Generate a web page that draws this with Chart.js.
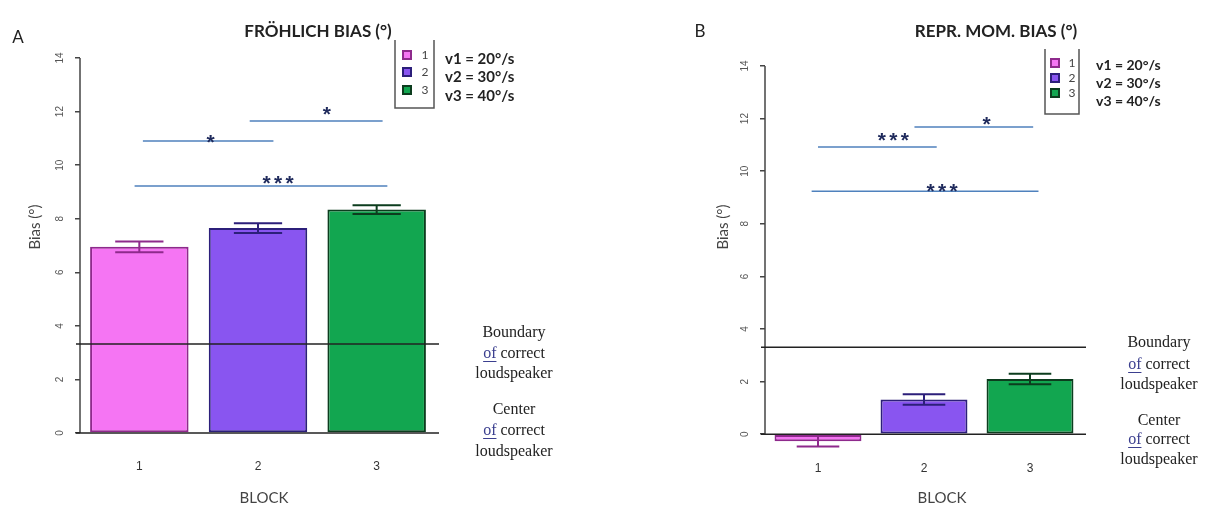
<!DOCTYPE html>
<html>
<head>
<meta charset="utf-8">
<script src="https://cdn.jsdelivr.net/npm/chart.js@4.4.1/dist/chart.umd.min.js"></script>
<style>
  body { margin: 0; background: #fff; }
  #wrap { position: relative; width: 1205px; height: 507px; overflow: hidden; }
  .panel { position: absolute; top: 0; }
</style>
</head>
<body>
<div id="wrap">
  <div class="panel" style="left:0"><canvas id="chartA" width="600" height="507"></canvas></div>
  <div class="panel" style="left:600px"><canvas id="chartB" width="605" height="507"></canvas></div>
</div>
<script>
// data
const blocks = ["1", "2", "3"];
const speedLabels = ["v1 = 20°/s", "v2 = 30°/s", "v3 = 40°/s"];
const yTickValues = [0, 2, 4, 6, 8, 10, 12, 14];

const frohlichMeans = [6.95, 7.65, 8.34];
const frohlichErr = [0.2, 0.18, 0.16];
const frohlichBoundary = 3.32;
// significance brackets: from/to in block units, y in degrees
const frohlichSig = [
  { from: 0.03, to: 1.13, y: 10.9, text: "*", tx: 0.6, ty: 11.05 },
  { from: 0.93, to: 2.05, y: 11.65, text: "*", tx: 1.58, ty: 12.06 },
  { from: -0.04, to: 2.09, y: 9.22, text: "***", tx: 1.17, ty: 9.52 },
];

const reprMeans = [-0.27, 1.32, 2.1];
const reprErr = [0.2, 0.2, 0.2];
const reprBoundary = 3.31;
const reprSig = [
  { from: 0.0, to: 1.12, y: 10.92, text: "***", tx: 0.71, ty: 11.37 },
  { from: 0.91, to: 2.03, y: 11.68, text: "*", tx: 1.59, ty: 11.98 },
  { from: -0.06, to: 2.08, y: 9.24, text: "***", tx: 1.17, ty: 9.4 },
];

const barColors = ["#f575f3", "#8955f0", "#12a650"];
const barBorders = ["#8e2a8c", "#2c1f7a", "#0c3d1e"];
const sigLineColor = "#4f81bd";
const starColor = "#1f2a5c";
const sansFont = "Lato, 'Liberation Sans', sans-serif";
const serifFont = "'Liberation Serif', 'DejaVu Serif', serif";

function drawNote(ctx, cx, rows, first) {
  ctx.save();
  ctx.font = "16px " + serifFont;
  ctx.textBaseline = "middle";
  ctx.fillStyle = "#222";
  ctx.textAlign = "center";
  ctx.fillText(first, cx, rows[0]);
  ctx.fillText("loudspeaker", cx, rows[2]);
  // "of correct" with underlined "of"
  const wOf = ctx.measureText("of").width;
  const wRest = ctx.measureText(" correct").width;
  const x0 = cx - (wOf + wRest) / 2;
  ctx.textAlign = "left";
  ctx.fillStyle = "#3b3f8f";
  ctx.fillText("of", x0, rows[1]);
  ctx.strokeStyle = "#3b3f8f";
  ctx.lineWidth = 1;
  ctx.beginPath();
  ctx.moveTo(x0, rows[1] + 7.5);
  ctx.lineTo(x0 + wOf, rows[1] + 7.5);
  ctx.stroke();
  ctx.fillStyle = "#222";
  ctx.fillText(" correct", x0 + wOf, rows[1]);
  ctx.restore();
}

function drawLegend(ctx, lg) {
  ctx.save();
  ctx.strokeStyle = "#555";
  ctx.lineWidth = 1.5;
  ctx.beginPath();
  ctx.moveTo(lg.left, lg.top);
  ctx.lineTo(lg.left, lg.bottom);
  ctx.lineTo(lg.right, lg.bottom);
  ctx.lineTo(lg.right, lg.top);
  ctx.stroke();
  for (let i = 0; i < blocks.length; i++) {
    ctx.fillStyle = barColors[i];
    ctx.strokeStyle = barBorders[i];
    ctx.lineWidth = 2;
    ctx.fillRect(lg.sqX, lg.sqRows[i] - 4, 8, 8);
    ctx.strokeRect(lg.sqX, lg.sqRows[i] - 4, 8, 8);
    ctx.fillStyle = "#444";
    ctx.font = "12px " + sansFont;
    ctx.textAlign = "center";
    ctx.textBaseline = "middle";
    ctx.fillText(blocks[i], lg.labelX, lg.sqRows[i]);
    ctx.fillStyle = "#222";
    ctx.font = "bold " + lg.fontSize + "px " + sansFont;
    ctx.textAlign = "left";
    ctx.fillText(speedLabels[i], lg.textX, lg.textRows[i]);
  }
  ctx.restore();
}

function makeChart(id, cfg) {
  const extras = {
    id: "extras" + id,
    afterDatasetsDraw(chart) {
      const ctx = chart.ctx;
      const x = chart.scales.x;
      const y = chart.scales.y;
      const area = chart.chartArea;
      ctx.save();
      // y axis line from 0 to 14
      ctx.strokeStyle = "#444";
      ctx.lineWidth = 1.5;
      ctx.beginPath();
      ctx.moveTo(area.left, y.getPixelForValue(14));
      ctx.lineTo(area.left, y.getPixelForValue(0));
      ctx.stroke();
      // zero line and boundary line
      ctx.strokeStyle = "#222";
      ctx.lineWidth = 1.5;
      [0, cfg.boundary].forEach((v) => {
        const py = y.getPixelForValue(v);
        ctx.beginPath();
        ctx.moveTo(area.left - 4, py);
        ctx.lineTo(area.right + 3, py);
        ctx.stroke();
      });
      // error bars
      const meta = chart.getDatasetMeta(0);
      meta.data.forEach((bar, i) => {
        const hi = y.getPixelForValue(cfg.means[i] + cfg.errs[i]);
        const lo = y.getPixelForValue(cfg.means[i] - cfg.errs[i]);
        const half = bar.width * 0.245;
        ctx.strokeStyle = barBorders[i];
        ctx.lineWidth = 2;
        ctx.beginPath();
        ctx.moveTo(bar.x, hi);
        ctx.lineTo(bar.x, lo);
        ctx.moveTo(bar.x - half, hi);
        ctx.lineTo(bar.x + half, hi);
        ctx.moveTo(bar.x - half, lo);
        ctx.lineTo(bar.x + half, lo);
        ctx.stroke();
      });
      // significance brackets
      cfg.sig.forEach((s) => {
        const py = y.getPixelForValue(s.y);
        ctx.strokeStyle = sigLineColor;
        ctx.lineWidth = 1.5;
        ctx.beginPath();
        ctx.moveTo(x.getPixelForValue(s.from), py);
        ctx.lineTo(x.getPixelForValue(s.to), py);
        ctx.stroke();
        const cx = x.getPixelForValue(s.tx);
        const cy = y.getPixelForValue(s.ty);
        ctx.fillStyle = starColor;
        ctx.font = "bold 21px 'Liberation Sans', sans-serif";
        ctx.textAlign = "center";
        ctx.textBaseline = "alphabetic";
        const n = s.text.length;
        for (let k = 0; k < n; k++) {
          ctx.fillText("*", cx + (k - (n - 1) / 2) * 11.5, cy + 11.5);
        }
      });
      ctx.restore();
    },
    afterDraw(chart) {
      const ctx = chart.ctx;
      ctx.save();
      ctx.fillStyle = "#222";
      ctx.textBaseline = "middle";
      ctx.textAlign = "center";
      ctx.font = "bold 17px " + sansFont;
      ctx.fillText(cfg.title, cfg.titleX, 32, cfg.titleW);
      ctx.font = "17px " + sansFont;
      ctx.fillText(cfg.letter, cfg.letterX, cfg.letterY);
      // axis titles
      ctx.fillStyle = "#444";
      ctx.font = "15px " + sansFont;
      ctx.fillText("BLOCK", cfg.blockX, 498);
      ctx.translate(cfg.yTitleX, 227);
      ctx.rotate(-Math.PI / 2);
      ctx.fillText("Bias (°)", 0, 0);
      ctx.restore();
      drawLegend(ctx, cfg.legend);
      drawNote(ctx, cfg.noteX, cfg.boundaryRows, "Boundary");
      drawNote(ctx, cfg.noteX, cfg.centerRows, "Center");
    },
  };

  return new Chart(document.getElementById(id), {
    type: "bar",
    data: {
      labels: blocks,
      datasets: [
        {
          data: cfg.means,
          backgroundColor: barColors,
          borderColor: barBorders,
          borderWidth: 2,
          borderSkipped: false,
          categoryPercentage: 1,
          barPercentage: cfg.barPct,
        },
      ],
    },
    options: {
      responsive: false,
      animation: false,
      layout: { padding: cfg.padding },
      plugins: { legend: { display: false }, tooltip: { enabled: false } },
      scales: {
        x: {
          grid: { display: false },
          border: { display: false },
          ticks: { color: "#333", font: { size: 12, family: "'Liberation Sans'" }, padding: cfg.xTickPad },
          afterFit: (scale) => { scale.height = cfg.xHeight; },
        },
        y: {
          min: cfg.yMin,
          max: 14,
          border: { display: false },
          grid: { drawOnChartArea: false, tickLength: 5, color: "#444", lineWidth: 1.5 },
          ticks: {
            color: "#555",
            font: { size: 10, family: "'Liberation Sans'" },
            minRotation: 90,
            maxRotation: 90,
            crossAlign: "center",
            padding: 9,
          },
          afterBuildTicks: (scale) => {
            scale.ticks = yTickValues.map((v) => ({ value: v }));
          },
          afterFit: (scale) => { scale.width = cfg.yWidth; },
        },
      },
    },
    plugins: [extras],
  });
}

makeChart("chartA", {
  means: frohlichMeans,
  errs: frohlichErr,
  sig: frohlichSig,
  boundary: frohlichBoundary,
  yMin: 0,
  barPct: 0.83,
  padding: { left: 20, right: 164, top: 58, bottom: 0 },
  yWidth: 60,
  xHeight: 74,
  xTickPad: 18,
  title: "FRÖHLICH BIAS (°)",
  titleX: 318,
  titleW: 152,
  letter: "A",
  letterX: 18,
  letterY: 38,
  yTitleX: 35,
  blockX: 264,
  legend: { left: 395, right: 434, top: 40, bottom: 108, sqX: 403, sqRows: [55, 72, 90], labelX: 425, textX: 445, textRows: [59, 77, 96], fontSize: 15 },
  noteX: 514,
  boundaryRows: [333, 354, 374],
  centerRows: [410, 431, 452],
});

makeChart("chartB", {
  means: reprMeans,
  errs: reprErr,
  sig: reprSig,
  boundary: reprBoundary,
  yMin: -0.6,
  barPct: 0.82,
  padding: { left: 100, right: 122, top: 66, bottom: 0 },
  yWidth: 65,
  xHeight: 57,
  xTickPad: 3,
  title: "REPR. MOM. BIAS (°)",
  titleX: 396,
  titleW: 174,
  letter: "B",
  letterX: 100,
  letterY: 32,
  yTitleX: 123,
  blockX: 342,
  legend: { left: 445, right: 479, top: 49, bottom: 114, sqX: 451, sqRows: [63, 78, 93], labelX: 472, textX: 496, textRows: [65, 83, 101], fontSize: 14 },
  noteX: 559,
  boundaryRows: [343, 365, 385],
  centerRows: [421, 440, 460],
});
</script>
</body>
</html>
